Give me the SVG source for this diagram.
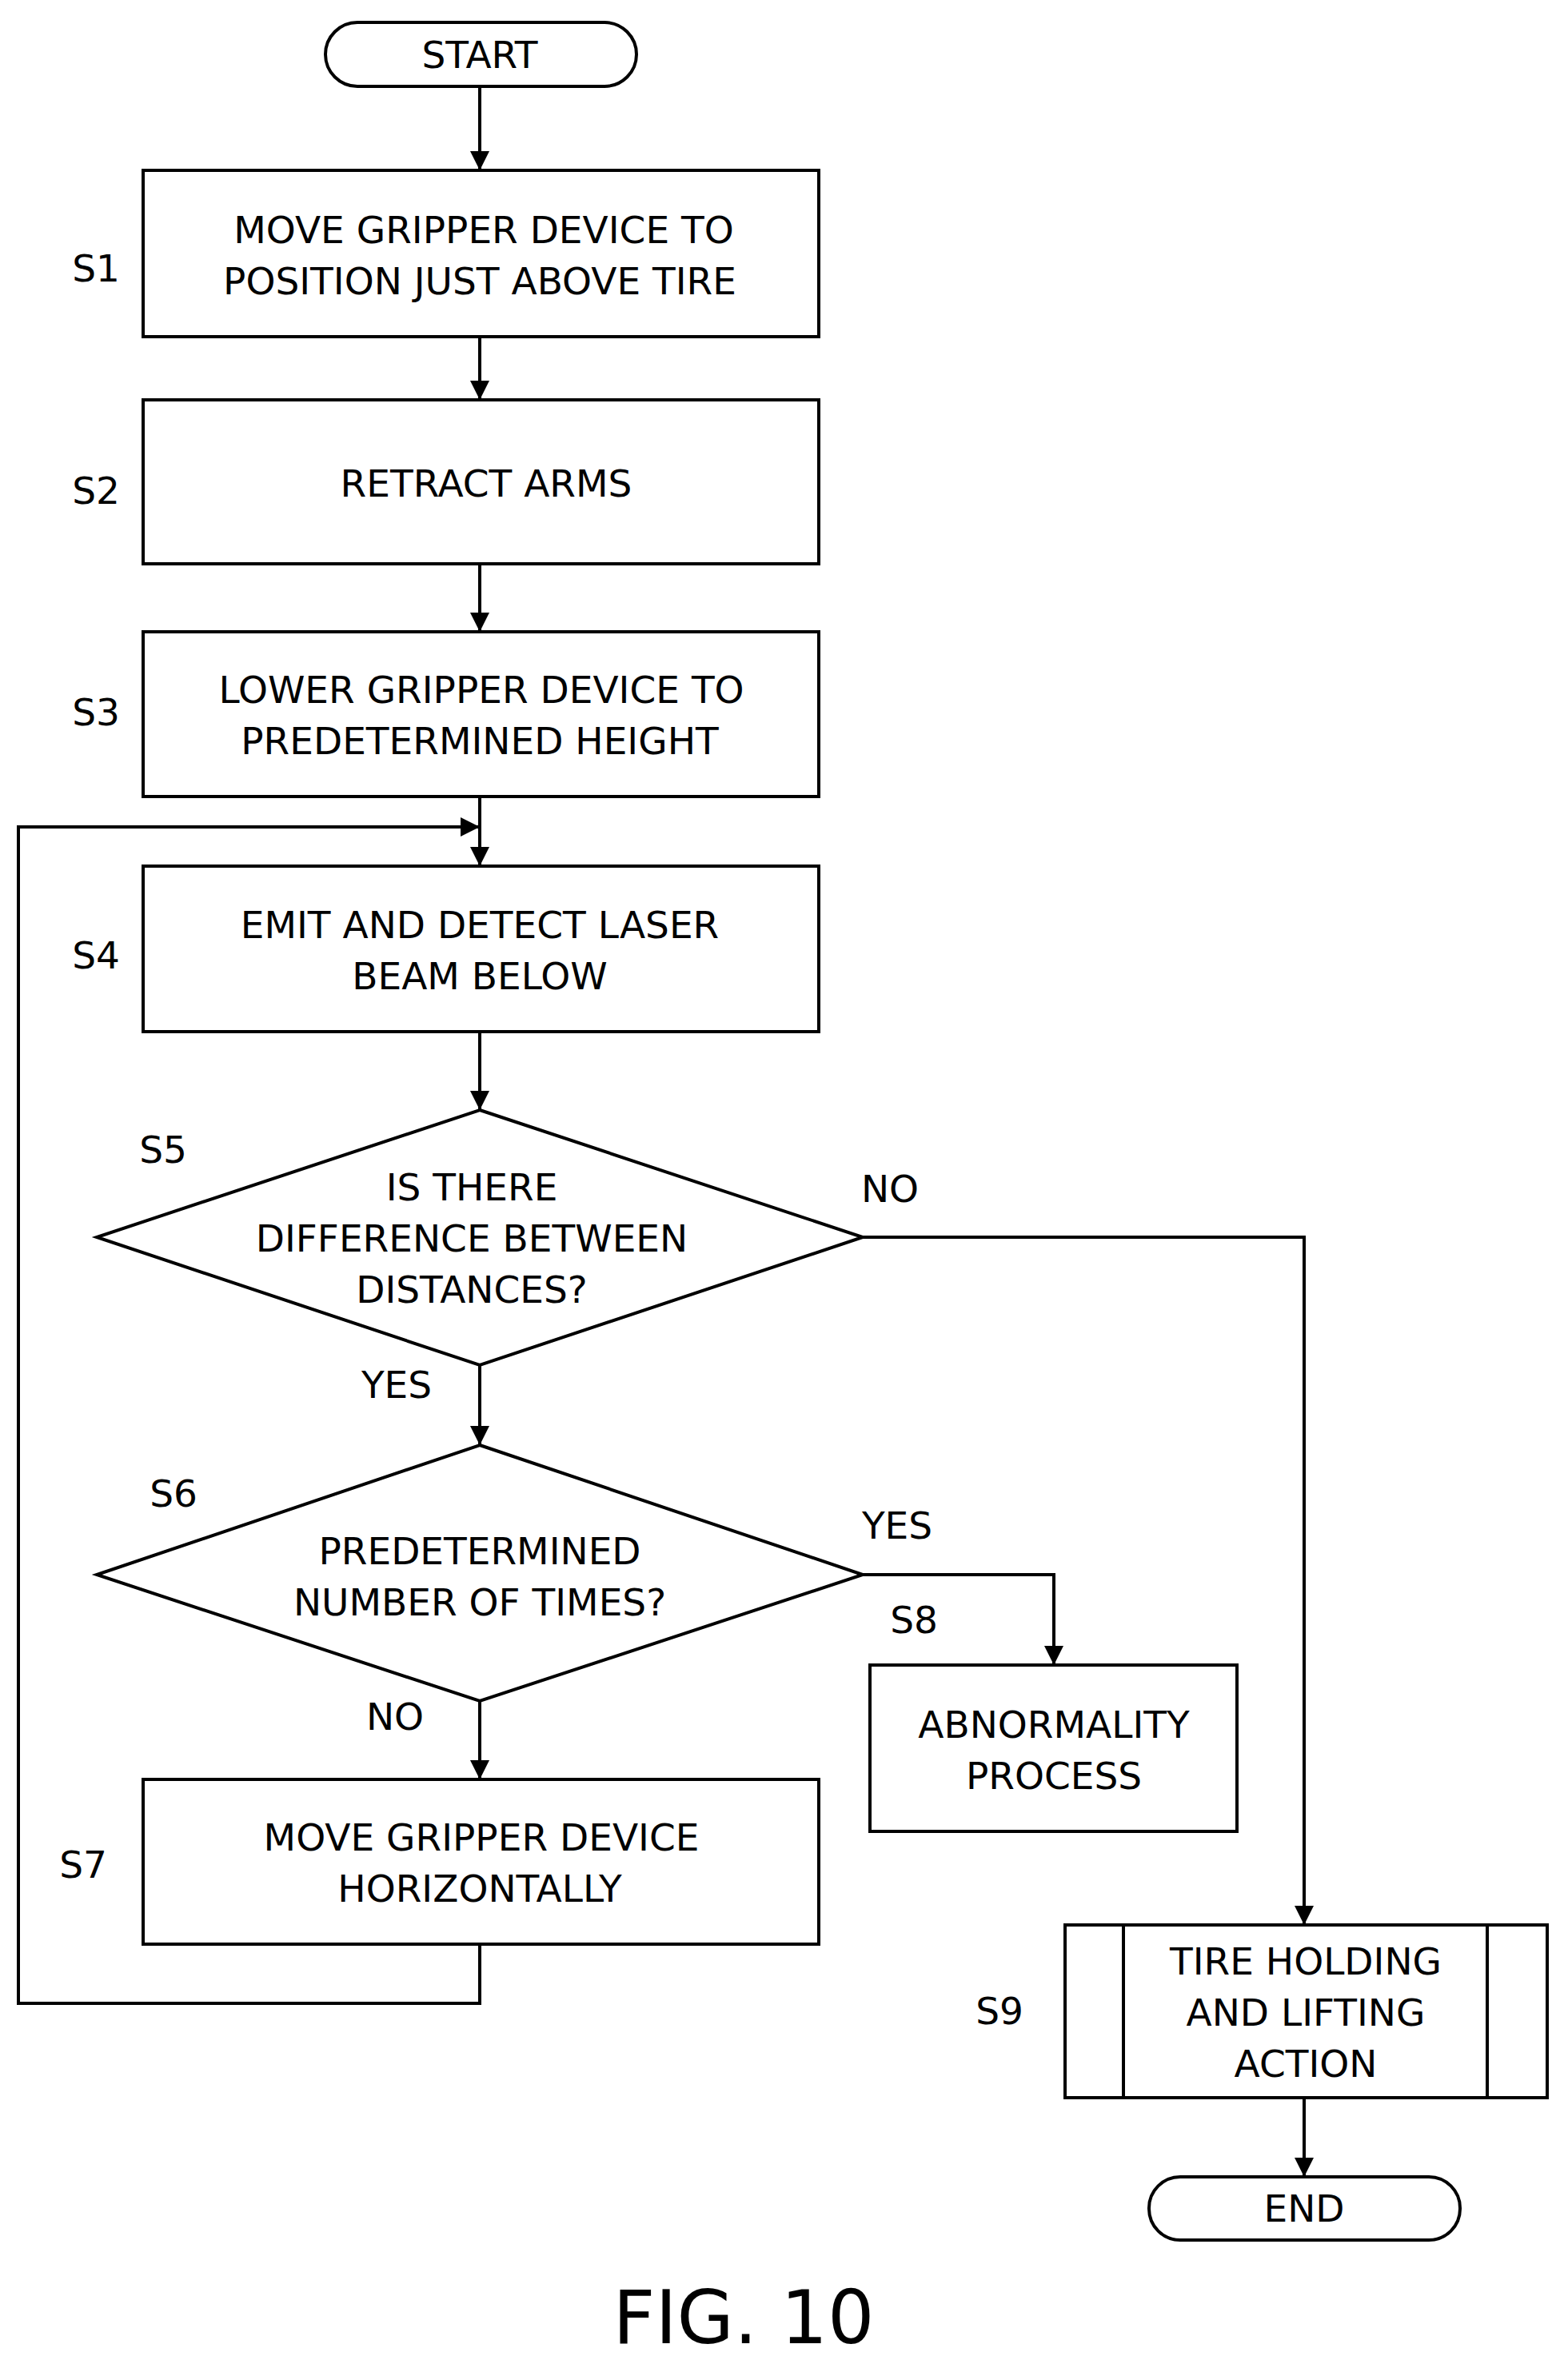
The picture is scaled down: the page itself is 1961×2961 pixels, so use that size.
<svg xmlns="http://www.w3.org/2000/svg" width="1961" height="2961" viewBox="0 0 1961 2961">
<style>
.s{fill:#fff;stroke:#000;stroke-width:4}
.l{fill:none;stroke:#000;stroke-width:4}
text{font-family:"DejaVu Sans",sans-serif;font-size:47px;text-anchor:middle;dominant-baseline:central;fill:#000}
</style>
<defs><marker id="a" markerWidth="10" markerHeight="10" refX="9" refY="5" orient="auto" markerUnits="userSpaceOnUse" viewBox="0 0 10 10"><path d="M0,0L10,5L0,10z"/></marker>
<marker id="b" markerWidth="24" markerHeight="30" refX="24" refY="15" orient="auto" markerUnits="userSpaceOnUse"><path d="M0,3L24,15L0,27z"/></marker></defs>
<g id="connectors">
<line class="l" x1="600" y1="108" x2="600" y2="213" marker-end="url(#b)"/>
<line class="l" x1="600" y1="421" x2="600" y2="500" marker-end="url(#b)"/>
<line class="l" x1="600" y1="705" x2="600" y2="790" marker-end="url(#b)"/>
<line class="l" x1="600" y1="996" x2="600" y2="1083" marker-end="url(#b)"/>
<line class="l" x1="600" y1="1290" x2="600" y2="1388" marker-end="url(#b)"/>
<line class="l" x1="600" y1="1707" x2="600" y2="1807" marker-end="url(#b)"/>
<line class="l" x1="600" y1="2127" x2="600" y2="2225" marker-end="url(#b)"/>
<polyline class="l" points="600,2431 600,2505 23,2505 23,1034 600,1034" marker-end="url(#b)"/>
<polyline class="l" points="1079,1547 1631,1547 1631,2407" marker-end="url(#b)"/>
<polyline class="l" points="1079,1969 1318,1969 1318,2082" marker-end="url(#b)"/>
<line class="l" x1="1631" y1="2623" x2="1631" y2="2722" marker-end="url(#b)"/>
<text x="1113" y="1486">NO</text>
<text x="496" y="1731">YES</text>
<text x="1122" y="1907">YES</text>
<text x="494" y="2146">NO</text>
</g>
<g id="start"><rect class="s" x="407" y="28" width="389" height="80" rx="40"/><text x="600" y="68">START</text></g>
<g id="s1"><rect class="s" x="179" y="213" width="845" height="208"/><text x="605" y="287">MOVE GRIPPER DEVICE TO</text><text x="600" y="351">POSITION JUST ABOVE TIRE</text><text x="120" y="335">S1</text></g>
<g id="s2"><rect class="s" x="179" y="500" width="845" height="205"/><text x="608" y="604">RETRACT ARMS</text><text x="120" y="613">S2</text></g>
<g id="s3"><rect class="s" x="179" y="790" width="845" height="206"/><text x="602" y="862">LOWER GRIPPER DEVICE TO</text><text x="600" y="926">PREDETERMINED HEIGHT</text><text x="120" y="890">S3</text></g>
<g id="s4"><rect class="s" x="179" y="1083" width="845" height="207"/><text x="600" y="1156">EMIT AND DETECT LASER</text><text x="600" y="1220">BEAM BELOW</text><text x="120" y="1194">S4</text></g>
<g id="s5"><polygon class="s" points="600,1388 1079,1547 600,1707 121,1547"/><text x="590" y="1484">IS THERE</text><text x="590" y="1548">DIFFERENCE BETWEEN</text><text x="590" y="1612">DISTANCES?</text><text x="204" y="1437">S5</text></g>
<g id="s6"><polygon class="s" points="600,1807 1079,1969 600,2127 121,1969"/><text x="600" y="1939">PREDETERMINED</text><text x="600" y="2003">NUMBER OF TIMES?</text><text x="217" y="1867">S6</text></g>
<g id="s7"><rect class="s" x="179" y="2225" width="845" height="206"/><text x="602" y="2297">MOVE GRIPPER DEVICE</text><text x="600" y="2361">HORIZONTALLY</text><text x="104" y="2331">S7</text></g>
<g id="s8"><rect class="s" x="1088" y="2082" width="459" height="208"/><text x="1318" y="2156">ABNORMALITY</text><text x="1318" y="2220">PROCESS</text><text x="1143" y="2025">S8</text></g>
<g id="s9"><rect class="s" x="1332" y="2407" width="603" height="216"/><line class="l" x1="1405" y1="2407" x2="1405" y2="2623"/><line class="l" x1="1860" y1="2407" x2="1860" y2="2623"/><text x="1633" y="2452">TIRE HOLDING</text><text x="1633" y="2516">AND LIFTING</text><text x="1633" y="2580">ACTION</text><text x="1250" y="2514">S9</text></g>
<g id="end"><rect class="s" x="1437" y="2722" width="389" height="79" rx="39"/><text x="1631" y="2761">END</text></g>
<text x="930" y="2898" style="font-size:92px">FIG. 10</text>
</svg>
